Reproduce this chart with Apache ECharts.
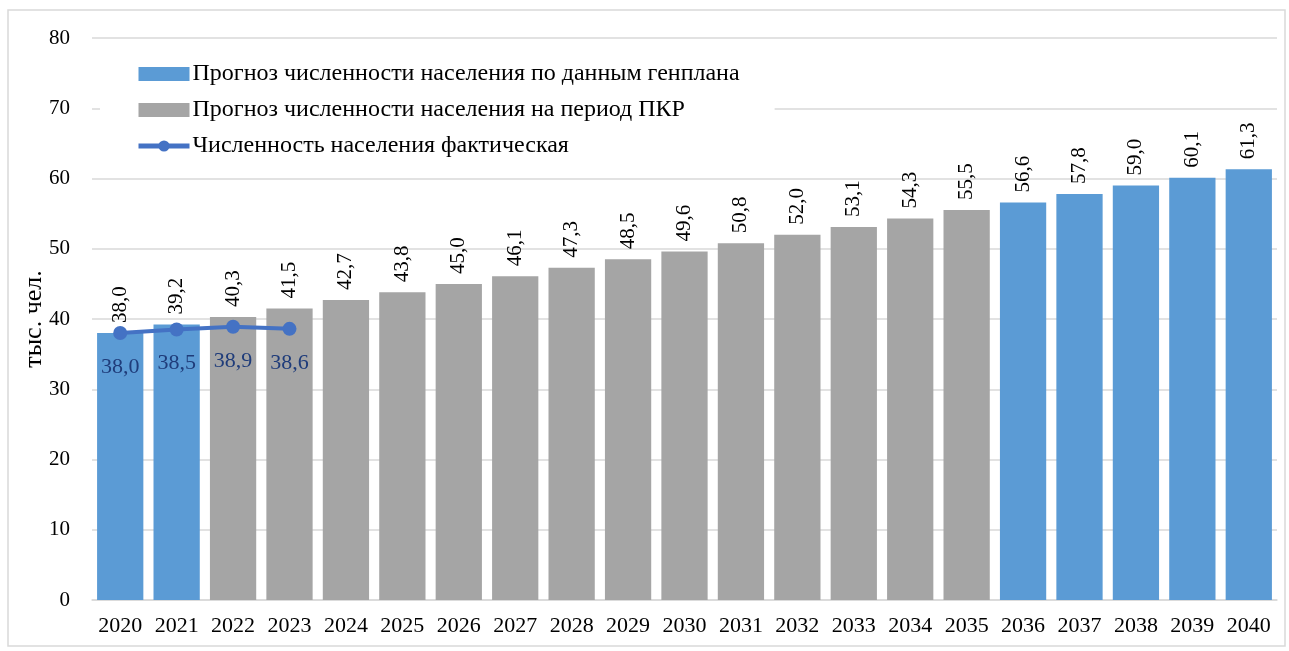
<!DOCTYPE html>
<html>
<head>
<meta charset="utf-8">
<script src="https://cdn.jsdelivr.net/npm/echarts@6/dist/echarts.min.js"></script>
<style>
html,body{margin:0;padding:0;background:#fff;}
#c{width:1289px;height:651px;}
</style>
</head>
<body>
<div id="c"></div>
<script>
var years = ['2020','2021','2022','2023','2024','2025','2026','2027','2028','2029','2030','2031','2032','2033','2034','2035','2036','2037','2038','2039','2040'];
var genplan = [38.0, 39.2, null, null, null, null, null, null, null, null, null, null, null, null, null, null, 56.6, 57.8, 59.0, 60.1, 61.3];
var pkr = [null, null, 40.3, 41.5, 42.7, 43.8, 45.0, 46.1, 47.3, 48.5, 49.6, 50.8, 52.0, 53.1, 54.3, 55.5, null, null, null, null, null];
var actual = [38.0, 38.5, 38.9, 38.6, null, null, null, null, null, null, null, null, null, null, null, null, null, null, null, null, null];
var yTicks = [0, 10, 20, 30, 40, 50, 60, 70, 80];

var FONT = 'Liberation Serif';
function fmt(p){ return p.value == null ? '' : Number(p.value).toFixed(1).replace('.', ','); }

var chart = echarts.init(document.getElementById('c'));
var barLabel = {
  show: true, position: 'top', rotate: 90, align: 'left', verticalAlign: 'middle',
  distance: 10, formatter: fmt, fontFamily: FONT, fontSize: 21, color: '#000'
};
chart.setOption({
  animation: false,
  textStyle: { fontFamily: FONT },
  graphic: [{
    type: 'rect', shape: { x: 8, y: 10, width: 1277, height: 636 },
    style: { fill: 'none', stroke: '#d9d9d9', lineWidth: 1.5 }, z: -1
  }],
  grid: { left: 92, right: 12, top: 38, bottom: 51 },
  legend: {
    orient: 'vertical', left: 100, top: 58,
    padding: [4, 35, 4, 36],
    backgroundColor: '#fff',
    itemWidth: 51, itemHeight: 14, itemGap: 12,
    textStyle: { fontFamily: FONT, fontSize: 24, color: '#000', padding: [0, 0, 0, -2] },
    data: [
      { name: 'Прогноз численности населения по данным генплана', icon: 'rect', itemStyle: { color: '#5B9BD5' } },
      { name: 'Прогноз численности населения на период ПКР', icon: 'rect', itemStyle: { color: '#A5A5A5' } },
      { name: 'Численность населения фактическая', itemStyle: { color: '#4472C4' }, lineStyle: { width: 5, color: '#4472C4' } }
    ],
    z: 5
  },
  xAxis: {
    type: 'category', data: years,
    axisLine: { lineStyle: { color: '#d9d9d9', width: 1.5 } },
    axisTick: { show: false },
    axisLabel: { interval: 0, fontFamily: FONT, fontSize: 22, color: '#000', margin: 15 }
  },
  yAxis: {
    type: 'value', min: 0, max: 80, interval: 10,
    name: 'тыс. чел.', nameLocation: 'middle', nameGap: 45, nameRotate: 90,
    nameMoveOverlap: false,
    nameTextStyle: { fontFamily: FONT, fontSize: 26, color: '#000' },
    axisLabel: { fontFamily: FONT, fontSize: 21, color: '#000', margin: 22,
      formatter: function(v){ return yTicks.indexOf(v) >= 0 ? String(v) : ''; } },
    splitLine: { lineStyle: { color: '#d9d9d9', width: 1.5 } },
    axisLine: { show: false }, axisTick: { show: false }
  },
  series: [
    {
      name: 'Прогноз численности населения по данным генплана', type: 'bar',
      data: genplan, stack: 'b', barCategoryGap: '18%',
      itemStyle: { color: '#5B9BD5' }, label: barLabel
    },
    {
      name: 'Прогноз численности населения на период ПКР', type: 'bar',
      data: pkr, stack: 'b', barCategoryGap: '18%',
      itemStyle: { color: '#A5A5A5' }, label: barLabel
    },
    {
      name: 'Численность населения фактическая', type: 'line',
      data: actual, symbol: 'circle', symbolSize: 14,
      lineStyle: { color: '#4472C4', width: 4 },
      itemStyle: { color: '#4472C4' },
      label: { show: true, position: 'bottom', distance: 16, formatter: fmt,
        fontFamily: FONT, fontSize: 22, color: '#1F3C7A' },
      z: 3
    }
  ]
});
</script>
</body>
</html>
